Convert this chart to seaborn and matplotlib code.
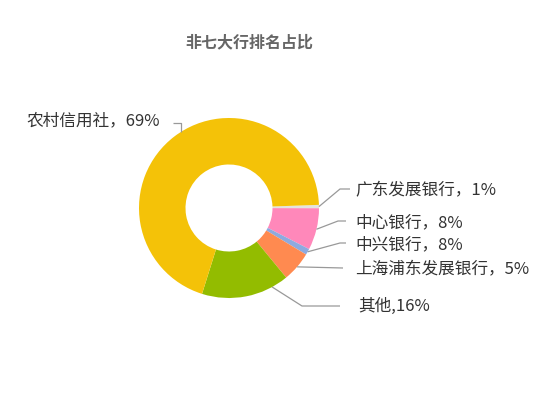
import numpy as np
import matplotlib
matplotlib.use("Agg")
import matplotlib.pyplot as plt
import seaborn as sns

# ---- data ----
categories = ["广东发展银行", "中心银行", "中兴银行", "上海浦东发展银行", "其他", "农村信用社"]
values = [0.6, 7.5, 1.1, 5.4, 15.8, 69.6]
label_texts = ["广东发展银行，1%", "中心银行，8%", "中兴银行，8%",
               "上海浦东发展银行，5%", "其他,16%", "农村信用社，69%"]
title = "非七大行排名占比"

# ---- style ----
colors = ["#E4E4DE", "#FF88BA", "#8EAADF", "#FF8A50", "#93BC00", "#F4C208"]
sns.set_theme(style="white")
plt.rcParams["font.family"] = ["Noto Sans CJK SC", "DejaVu Sans"]

W, H = 558, 403
fig = plt.figure(figsize=(W / 100, H / 100), dpi=100)
ax = fig.add_axes([0, 0, 1, 1])

cx, cy = 229, H - 208
R = 90
start = 2.0
wedges, _ = ax.pie(values, colors=colors, startangle=start, counterclock=False,
                   radius=R, center=(cx, cy), frame=True,
                   wedgeprops=dict(width=R - 43.5, linewidth=0))
ax.set_xlim(0, W)
ax.set_ylim(0, H)
ax.set_aspect("auto")
ax.axis("off")

# layout of labels / leader lines (pixel positions, y from top)
anchor_frac = [0.5, 0.5, 0.5, 0.5, 0.19, 0.52]
label_pos = [(355, 191), (355, 223), (355, 245), (355, 270), (358, 306), (160, 121)]
elbows = [[(340, 189), (350, 189)],
          [(338, 221), (346, 221)],
          [(340, 243), (346, 243)],
          [(343, 268)],
          [(302, 306), (340, 306)],
          [None, (173, 123)]]
line_color = "#999999"
for w, frac, (lx, ly), elb, txt in zip(wedges, anchor_frac, label_pos, elbows, label_texts):
    a1, a2 = w.theta1, w.theta2
    # wedges are drawn clockwise: they start at theta2 and end at theta1
    ang = np.deg2rad(a2 - (a2 - a1) * frac)
    x0 = cx + R * np.cos(ang)
    y0 = cy + R * np.sin(ang)
    xs, ys = [x0], [y0]
    for p in elb:
        if p is None:
            xs.append(x0); ys.append(H - 123)
        else:
            xs.append(p[0]); ys.append(H - p[1])
    ax.plot(xs, ys, color=line_color, lw=0.9, solid_capstyle="butt")
    ha = "left" if lx > cx else "right"
    ax.text(lx, H - ly, txt, ha=ha, va="center", fontsize=12, color="#333333")

ax.text(249, H - 42, title, ha="center", va="center", fontsize=11.5,
        color="#666666", fontweight="bold")

fig.savefig("out.png", dpi=100, facecolor="white")
